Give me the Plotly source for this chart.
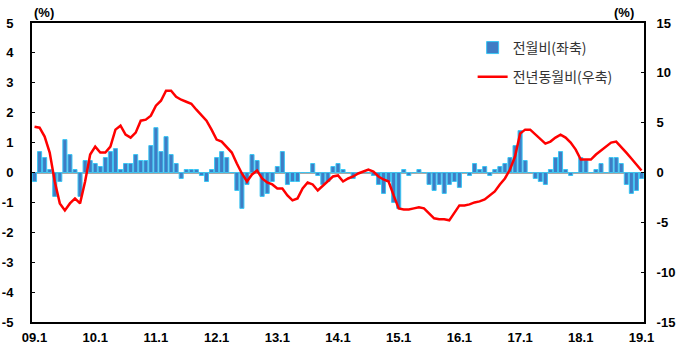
import plotly.graph_objects as go

# Category labels: monthly from 2009.1 to 2019.1
years = list(range(2009, 2020))
months = [f"{y % 100:02d}.{m}" for y in years for m in range(1, 13)][:121]
tick_labels = ["09.1", "10.1", "11.1", "12.1", "13.1", "14.1", "15.1", "16.1", "17.1", "18.1", "19.1"]

# Axis tick values / labels
left_ticks = [5, 4, 3, 2, 1, 0, -1, -2, -3, -4, -5]
left_labels = ["5", "4", "3", "2", "1", "0", "-1", "-2", "-3", "-4", "-5"]
right_ticks = [15, 10, 5, 0, -5, -10, -15]
right_labels = ["15", "10", "5", "0", "-5", "-10", "-15"]

# 전월비 (month-on-month, %, left axis)
mom = [
    -0.3, 0.7, 0.5, 0.1, -0.8, -0.3, 1.1, 0.6, 0.1, -0.8, 0.4, 0.4,
    0.3, 0.2, 0.5, 0.7, 0.8, 0.1, 0.3, 0.3, 0.6, 0.4, 0.4, 0.9,
    1.5, 0.7, 1.2, 0.6, 0.3, -0.2, 0.1, 0.1, 0.1, -0.1, -0.3, 0.1,
    0.5, 0.7, 0.5, 0.0, -0.6, -1.2, -0.4, 0.6, 0.4, -0.8, -0.7, -0.3,
    0.2, 0.7, -0.4, -0.3, -0.3, 0.0, 0.0, 0.3, -0.1, -0.4, -0.3, 0.2,
    0.3, 0.1, 0.0, -0.2, 0.0, 0.0, 0.0, -0.1, -0.4, -0.7, -0.3, -1.0,
    -1.2, 0.1, -0.1, 0.0, 0.1, 0.0, -0.4, -0.6, -0.4, -0.7, -0.4, -0.3,
    -0.5, 0.0, -0.1, 0.3, 0.1, 0.2, -0.1, 0.1, 0.2, 0.3, 0.5, 0.9,
    1.4, 0.4, 0.0, -0.2, -0.3, -0.4, 0.1, 0.5, 0.7, 0.1, -0.1, 0.0,
    0.5, 0.4, 0.0, 0.1, 0.3, 0.0, 0.5, 0.5, 0.3, -0.4, -0.7, -0.6,
    -0.2,
]

# 전년동월비 (year-on-year, %, right axis)
yoy = [
    4.6, 4.5, 3.6, 2.0, -0.9, -3.1, -3.8, -3.1, -2.6, -3.1, -0.9, 1.8,
    2.6, 2.0, 2.0, 2.6, 4.3, 4.7, 3.8, 3.5, 4.0, 5.2, 5.3, 5.7,
    6.7, 7.2, 8.2, 8.2, 7.6, 7.3, 7.1, 6.9, 6.3, 5.8, 5.2, 4.3,
    3.3, 3.1, 2.5, 2.0, 0.9, -0.1, -0.9, -0.2, 0.2, -0.6, -1.0, -1.2,
    -1.6, -1.6, -2.3, -2.8, -2.6, -1.6, -1.0, -1.2, -1.8, -1.3, -0.9, -0.4,
    -0.3, -0.9, -0.6, -0.4, -0.1, 0.1, 0.3, 0.1, -0.4, -0.7, -0.9, -2.3,
    -3.6, -3.7, -3.7, -3.6, -3.5, -3.6, -4.1, -4.6, -4.7, -4.7, -4.8, -4.1,
    -3.3, -3.3, -3.2, -3.0, -2.9, -2.7, -2.3, -1.9, -1.2, -0.6, 0.3, 1.6,
    3.9, 4.3, 4.3, 3.8, 3.4, 2.9, 3.1, 3.5, 3.8, 3.5, 3.0, 2.3,
    1.3, 1.3, 1.3, 1.8, 2.2, 2.6, 3.0, 3.1, 2.6, 2.0, 1.4, 0.8,
    0.2,
]

tick_font = dict(family="Liberation Sans, Arial, sans-serif", size=13, color="black", weight="bold")

fig = go.Figure()
fig.add_trace(go.Bar(
    x=months, y=mom, name="전월비(좌축)", legendgroup="a",
    marker=dict(color="#3f7cc4", line=dict(color="#38c6f4", width=1)),
))
fig.add_trace(go.Scatter(
    x=months, y=yoy, name="전년동월비(우축)", legendgroup="b", yaxis="y2",
    mode="lines", line=dict(color="#ff0000", width=2.5),
))

fig.update_layout(
    width=700, height=358,
    margin=dict(l=32, r=56, t=23, b=36, autoexpand=False),
    plot_bgcolor="white", paper_bgcolor="white",
    bargap=0.2,
    showlegend=True,
    legend=dict(
        x=0.72, y=0.97, xanchor="left", yanchor="top",
        bgcolor="rgba(0,0,0,0)", traceorder="grouped", tracegroupgap=8,
        font=dict(family="Noto Sans CJK KR", size=14, color="#333333"),
    ),
    xaxis=dict(
        type="category", range=[-0.5, 120.5], automargin=False,
        tickmode="array", tickvals=tick_labels, ticktext=tick_labels,
        ticks="", showgrid=False, zeroline=False,
        showline=True, linecolor="black", linewidth=2, mirror=True,
        tickfont=tick_font, ticklabelstandoff=2,
    ),
    yaxis=dict(
        range=[-5, 5], automargin=False,
        tickmode="array", tickvals=left_ticks, ticktext=left_labels,
        ticks="inside", ticklen=3, tickcolor="black", tickwidth=1,
        showgrid=False, zeroline=True, zerolinecolor="#a8a8a8", zerolinewidth=2,
        showline=True, linecolor="black", linewidth=2, mirror=True,
        tickfont=tick_font, ticklabelstandoff=14,
    ),
    yaxis2=dict(
        range=[-15, 15], automargin=False,
        tickmode="array", tickvals=right_ticks, ticktext=right_labels,
        overlaying="y", side="right",
        ticks="inside", ticklen=3, tickcolor="black", tickwidth=1,
        showgrid=False, zeroline=False,
        showline=True, linecolor="black", linewidth=2,
        tickfont=tick_font, ticklabelstandoff=8,
    ),
    annotations=[
        dict(text="(%)", xref="paper", yref="paper", x=0, y=1, xanchor="left", yanchor="bottom",
             yshift=1, showarrow=False, font=tick_font),
        dict(text="(%)", xref="paper", yref="paper", x=0.947, y=1, xanchor="left", yanchor="bottom",
             yshift=1, showarrow=False, font=tick_font),
    ],
)

fig.write_html(
    "out.html",
    config={"displayModeBar": False},
    post_script="document.body.style.margin='0px';document.body.style.padding='0px';",
)
